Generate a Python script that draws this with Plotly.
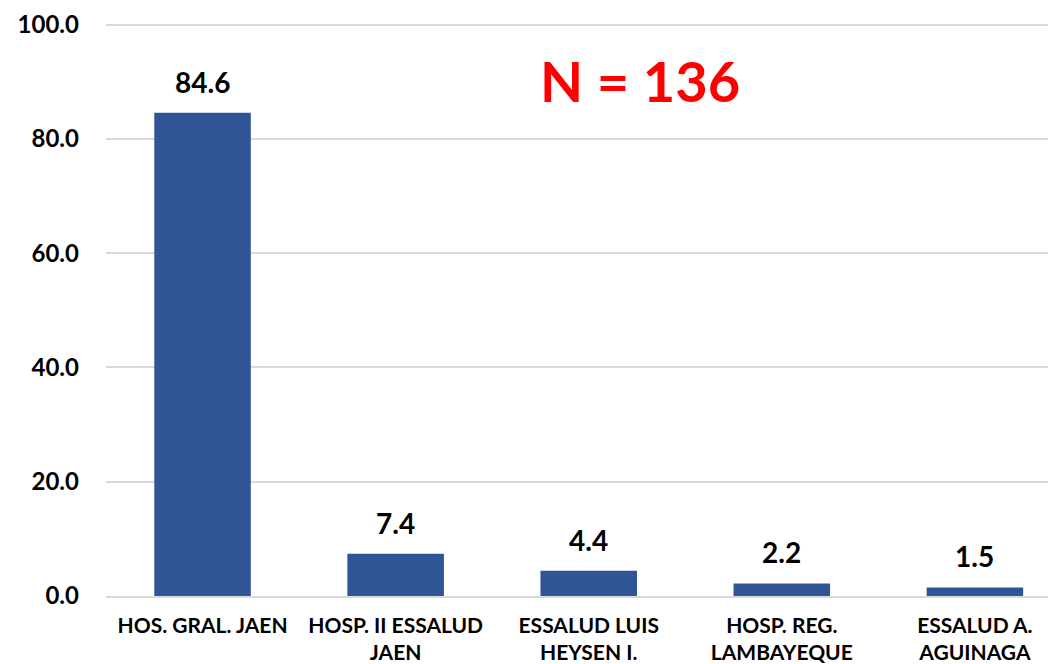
import plotly.graph_objects as go

categories = [
    "HOS. GRAL. JAEN",
    "HOSP. II ESSALUD<br>JAEN",
    "ESSALUD LUIS<br>HEYSEN I.",
    "HOSP. REG.<br>LAMBAYEQUE",
    "ESSALUD A.<br>AGUINAGA",
]
values = [84.6, 7.4, 4.4, 2.2, 1.5]
y_ticks = [0, 20, 40, 60, 80, 100]

font_family = "Lato"

# page body has an 8px margin, so the figure is shrunk by that much
W, H = 1048, 656
ML, MT, MB = 98, 15, 68

fig = go.Figure()

fig.add_trace(go.Bar(
    x=categories,
    y=values,
    marker=dict(color="#2F5597", line=dict(width=0)),
    width=0.5,
    hoverinfo="x+y",
))

# value labels above the bars
for cat, v in zip(categories, values):
    fig.add_annotation(
        x=cat, y=v, text=f"<b>{v:.1f}</b>",
        showarrow=False, yanchor="bottom", yshift=12,
        font=dict(family=font_family, size=28, color="black"),
    )

plot_w = W - ML
plot_h = H - MT - MB
fig.add_annotation(
    text="<b>N = 136</b>",
    x=(640 - 8 - ML) / plot_w, y=(596 - 80) / plot_h,
    xref="paper", yref="paper", xanchor="center", yanchor="middle",
    showarrow=False,
    font=dict(family=font_family, size=56, color="#FF0000"),
)

fig.update_layout(
    width=W,
    height=H,
    margin=dict(l=ML, r=0, t=MT, b=MB),
    paper_bgcolor="white",
    plot_bgcolor="white",
    showlegend=False,
)

fig.update_xaxes(
    range=[-0.5, 4.42],
    tickfont=dict(family=font_family, size=21, color="black", weight="bold"),
    showgrid=False,
    showline=True,
    linecolor="#D9D9D9",
    linewidth=1.5,
    ticks="",
    ticklabelstandoff=10,
)

fig.update_yaxes(
    range=[0, 100.3],
    tickvals=y_ticks,
    tickformat=".1f",
    tickfont=dict(family=font_family, size=24, color="black", weight="bold"),
    showgrid=True,
    gridcolor="#D9D9D9",
    gridwidth=1.5,
    zeroline=False,
    showline=False,
    ticks="",
    ticklabelstandoff=26,
)

fig.write_html("out.html")
